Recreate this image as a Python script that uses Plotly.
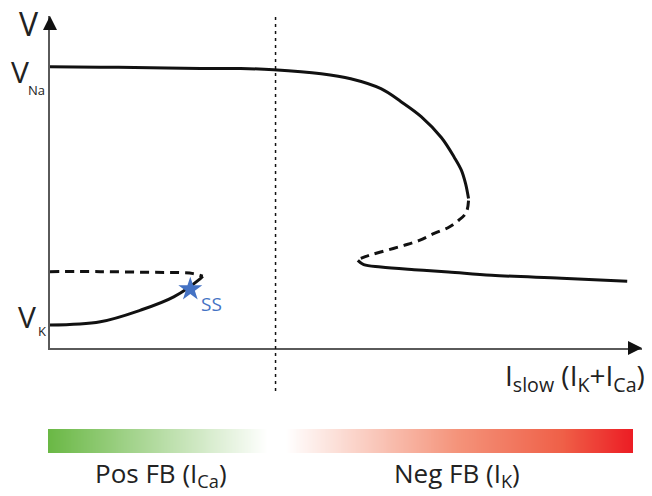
import numpy as np
import plotly.graph_objects as go

# ---- data (arbitrary units: I_slow 0-100, V 0-100) ----
upper_I = [0, 8.5, 17.0, 25.4, 32.2, 37.8, 45.8, 50.8, 55.9, 59.3, 62.7, 66.1, 68.3, 69.5, 70.2, 70.7]
upper_V = [84.7, 84.6, 84.4, 84.2, 84.2, 83.8, 82.6, 81.1, 78.1, 74.2, 69.7, 63.4, 57.4, 53.5, 49.5, 45.0]

middle_I = [70.7, 70.3, 69.0, 67.3, 64.9, 62.4, 59.8, 56.8, 53.9, 52.5]
middle_V = [44.4, 40.8, 38.4, 36.3, 34.5, 32.4, 30.9, 29.4, 27.9, 27.0]

lower_I = [52.0, 53.0, 55.9, 61.5, 67.3, 74.6, 86.4, 97.5]
lower_V = [26.4, 25.1, 24.4, 23.6, 22.9, 21.9, 21.0, 20.1]

left_dash_I = [0, 8.5, 17.0, 22.0, 24.2, 25.8]
left_dash_V = [23.0, 23.0, 22.8, 22.7, 22.4, 21.6]

left_solid_I = [0, 8.5, 15.3, 20.9, 25.4, 25.8]
left_solid_V = [6.9, 7.9, 11.4, 15.4, 20.9, 21.6]

ss_I = [23.7]
ss_V = [17.7]

threshold_I = 38.1

I_max = 100.0
V_max = 100.0

fb_levels = np.linspace(0, 1, 300)

# ---- styles ----
BLK = "#111111"
AXC = "#5a5a5a"
BLUE = "#4472c4"
FONT = "Open Sans"

fig = go.Figure()

def curve(x, y, dash=None):
    fig.add_trace(go.Scatter(
        x=x, y=y, mode="lines",
        line=dict(color=BLK, width=3, shape="spline", smoothing=1.0, dash=dash),
        hoverinfo="skip", showlegend=False, xaxis="x", yaxis="y", cliponaxis=False))

curve(upper_I, upper_V)
curve(middle_I, middle_V, dash="9px,6px")
curve(lower_I, lower_V)
curve(left_dash_I, left_dash_V, dash="9px,6px")
curve(left_solid_I, left_solid_V)

fig.add_trace(go.Scatter(
    x=ss_I, y=ss_V, mode="markers",
    marker=dict(symbol="star", size=18, color=BLUE, line=dict(width=0)),
    showlegend=False, hoverinfo="skip", xaxis="x", yaxis="y", cliponaxis=False))

# axis arrowheads (tip at the end of each axis)
fig.add_trace(go.Scatter(
    x=[0, I_max], y=[V_max, 0], mode="markers",
    marker=dict(symbol=["arrow-up", "arrow-right"], size=14, color=BLK, line=dict(width=0)),
    showlegend=False, hoverinfo="skip", xaxis="x", yaxis="y", cliponaxis=False))

# gradient bar
fig.add_trace(go.Heatmap(
    z=[fb_levels], x=fb_levels, y=[0],
    colorscale=[[0.0, "#6ab845"], [0.375, "#ffffff"], [0.405, "#ffffff"],
                [0.7, "#f4937a"], [0.88, "#ef5f47"], [1.0, "#ec1c24"]],
    showscale=False, zsmooth="best", hoverinfo="skip",
    xaxis="x2", yaxis="y2"))

W, H = 652, 496
fig.update_layout(
    width=W, height=H,
    margin=dict(l=0, r=0, t=0, b=0),
    paper_bgcolor="white", plot_bgcolor="white",
    xaxis=dict(domain=[50 / W, 642 / W], range=[0, I_max], showline=True,
               linecolor=AXC, linewidth=2, showgrid=False, zeroline=False,
               showticklabels=False, ticks="", layer="below traces"),
    yaxis=dict(domain=[(H - 348) / H, (H - 16) / H], range=[0, V_max], showline=True,
               linecolor=AXC, linewidth=2, showgrid=False, zeroline=False,
               showticklabels=False, ticks="", layer="below traces"),
    xaxis2=dict(domain=[48 / W, 633 / W], range=[0, 1], visible=False, anchor="y2"),
    yaxis2=dict(domain=[(H - 453) / H, (H - 429) / H], range=[-0.5, 0.5], visible=False, anchor="x2"),
    font=dict(family=FONT, color=BLK),
)

# threshold dotted line
fig.add_shape(type="line", xref="x", yref="paper", x0=threshold_I, x1=threshold_I,
              y0=(H - 391) / H, y1=(H - 15) / H,
              line=dict(color=BLK, width=1.5, dash="3px,4px"))

def label(text, px, py, size, color="#222222", xanchor="center"):
    fig.add_annotation(x=px / W, y=1 - py / H, xref="paper", yref="paper",
                       text=text, showarrow=False, xanchor=xanchor, yanchor="middle",
                       font=dict(family=FONT, size=size, color=color))

label("V", 29, 24, 32)
label("V", 20, 72, 30)
label("Na", 36, 90, 13)
label("V", 27, 316, 30)
label("K", 42, 331, 13)
label("I<sub>slow</sub> (I<sub>K</sub>+I<sub>Ca</sub>)", 575, 377, 28)
label("SS", 211, 304, 19, color=BLUE)
label("Pos FB (I<sub>Ca</sub>)", 161, 474, 26)
label("Neg FB (I<sub>K</sub>)", 457, 474, 26)

fig.write_html("out.html")
